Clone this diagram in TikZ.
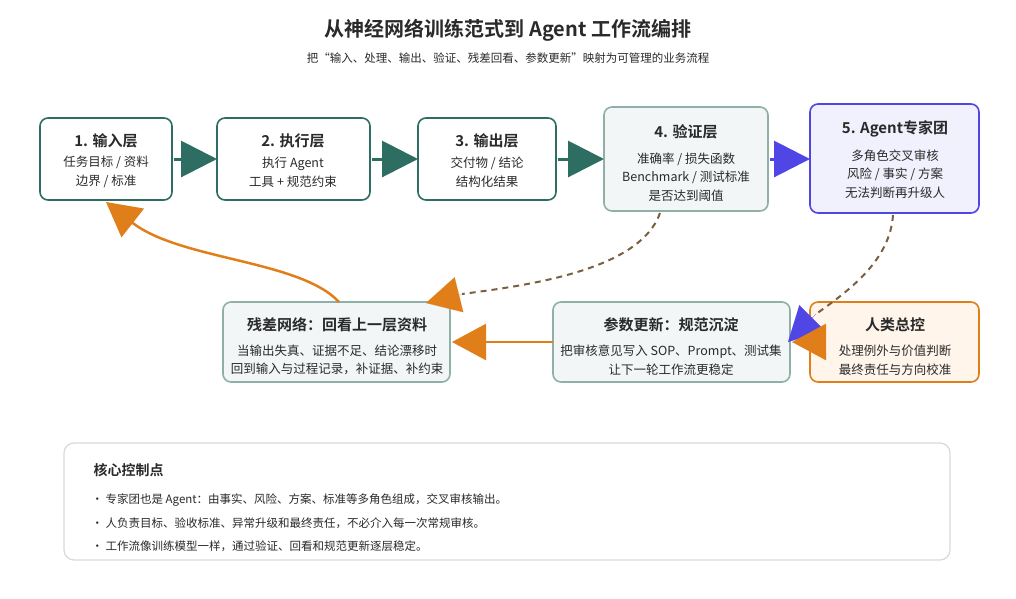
\documentclass[tikz,border=0pt]{standalone}
\usepackage{fontspec}
\setmainfont{Noto Sans CJK SC}[BoldFont={Noto Sans CJK SC Bold}]
\usetikzlibrary{arrows.meta}
\definecolor{teal}{HTML}{2E6E62}
\definecolor{gteal}{HTML}{8FB0A8}
\definecolor{blu}{HTML}{5046E5}
\definecolor{org}{HTML}{E07F1A}
\definecolor{brn}{HTML}{7A6040}
\definecolor{txt}{HTML}{2A2A2A}
\begin{document}
\begin{tikzpicture}[x=1pt,y=-1pt,
 box/.style={draw, rounded corners=8pt, line width=1.6pt},
 ttl/.style={font=\bfseries\fontsize{15}{17}\selectfont, text=txt},
 sub/.style={font=\fontsize{12.5}{18.5}\selectfont, text=txt, align=center},
 big/.style={-{Triangle[length=36pt,width=36pt]}, line width=3pt},
 med/.style={-{Triangle[length=34pt,width=36pt]}, line width=2.5pt}]
\useasboundingbox[fill=white] (0,0) rectangle (1016,598);
\node[font=\bfseries\fontsize{20}{22}\selectfont,text=txt] (title) at (508,30) {从神经网络训练范式到 Agent 工作流编排};
\node[font=\fontsize{11.5}{13}\selectfont,text=txt] (subt) at (508,58) {把“输入、处理、输出、验证、残差回看、参数更新”映射为可管理的业务流程};
% boxes
\draw[box,teal,fill=white] (40,118) rectangle (172,200);
\node[ttl] (t1) at (106,141) {1. 输入层};
\node[sub] (s1) at (106,172) {任务目标 / 资料\\边界 / 标准};
\draw[box,teal,fill=white] (217,118) rectangle (370,200);
\node[ttl] (t2) at (293,141) {2. 执行层};
\node[sub] (s2) at (293,172) {执行 Agent\\工具 + 规范约束};
\draw[box,teal,fill=white] (418,118) rectangle (556,200);
\node[ttl] (t3) at (487,141) {3. 输出层};
\node[sub] (s3) at (487,172) {交付物 / 结论\\结构化结果};
\draw[box,gteal,fill=teal!6] (604,107) rectangle (768,211);
\node[ttl] (t4) at (686,132) {4. 验证层};
\node[sub] (s4) at (686,177) {准确率 / 损失函数\\Benchmark / 测试标准\\是否达到阈值};
\draw[box,blu,fill=blu!8] (810,104) rectangle (979,213);
\node[ttl] (t5) at (895,129) {5. Agent专家团};
\node[sub] (s5) at (895,174) {多角色交叉审核\\风险 / 事实 / 方案\\无法判断再升级人};
\draw[box,gteal,fill=teal!6] (223,302) rectangle (450,382);
\node[ttl] (t6) at (337,325) {残差网络：回看上一层资料};
\node[sub] (s6) at (337,360) {当输出失真、证据不足、结论漂移时\\回到输入与过程记录，补证据、补约束};
\draw[box,gteal,fill=teal!6] (553,302) rectangle (790,382);
\node[ttl] (t7) at (671,325) {参数更新：规范沉淀};
\node[sub] (s7) at (671,360) {把审核意见写入 SOP、Prompt、测试集\\让下一轮工作流更稳定};
\draw[box,org,fill=orange!8] (810,302) rectangle (979,382);
\node[ttl] (t8) at (895,325) {人类总控};
\node[sub] (s8) at (895,360) {处理例外与价值判断\\最终责任与方向校准};
% connectors
\coordinate (a1) at (174,159); \coordinate (a2) at (217,159);
\coordinate (a3) at (372,159); \coordinate (a4) at (418,159);
\coordinate (a5) at (558,159); \coordinate (a6) at (604,159);
\coordinate (a7) at (770,159); \coordinate (a8) at (810,159);
\draw[big,teal] (a1) -- (a2);
\draw[big,teal] (a3) -- (a4);
\draw[big,teal] (a5) -- (a6);
\draw[big,blu] (a7) -- (a8);
\coordinate (d1) at (660,213); \coordinate (d2) at (426,303);
\draw[brn,line width=2pt,dash pattern=on 6pt off 5pt] (d1) .. controls (640,270) and (530,285) .. (462,294);
\draw[med,org,line width=0.1pt] (462,294) -- (d2);
\coordinate (e1) at (893,215); \coordinate (e2) at (788,342);
\draw[brn,line width=2pt,dash pattern=on 6pt off 5pt] (e1) .. controls (890,260) and (850,290) .. (816,314);
\draw[med,blu,line width=0.1pt] (816,314) -- (e2);
\coordinate (h1) at (810,342); \coordinate (h2) at (792,342);
\draw[med,org] (h1) -- (h2);
\coordinate (p1) at (553,342); \coordinate (p2) at (452,342);
\draw[med,org] (p1) -- (p2);
\coordinate (r1) at (339,302); \coordinate (r2) at (106,202);
\draw[med,org] (r1) .. controls (300,260) and (180,260) .. (r2);
% core box
\draw[draw=black!15,line width=1.2pt,rounded corners=10pt,fill=white] (64,443) rectangle (950,560);
\node[font=\bfseries\fontsize{14}{16}\selectfont,text=txt,anchor=west] (k) at (90,470) {核心控制点};
\node[font=\fontsize{11.5}{13}\selectfont,text=txt,anchor=west] (k1) at (88,500) {• 专家团也是 Agent：由事实、风险、方案、标准等多角色组成，交叉审核输出。};
\node[font=\fontsize{11.5}{13}\selectfont,text=txt,anchor=west] (k2) at (88,523) {• 人负责目标、验收标准、异常升级和最终责任，不必介入每一次常规审核。};
\node[font=\fontsize{11.5}{13}\selectfont,text=txt,anchor=west] (k3) at (88,546) {• 工作流像训练模型一样，通过验证、回看和规范更新逐层稳定。};
\end{tikzpicture}
\end{document}
